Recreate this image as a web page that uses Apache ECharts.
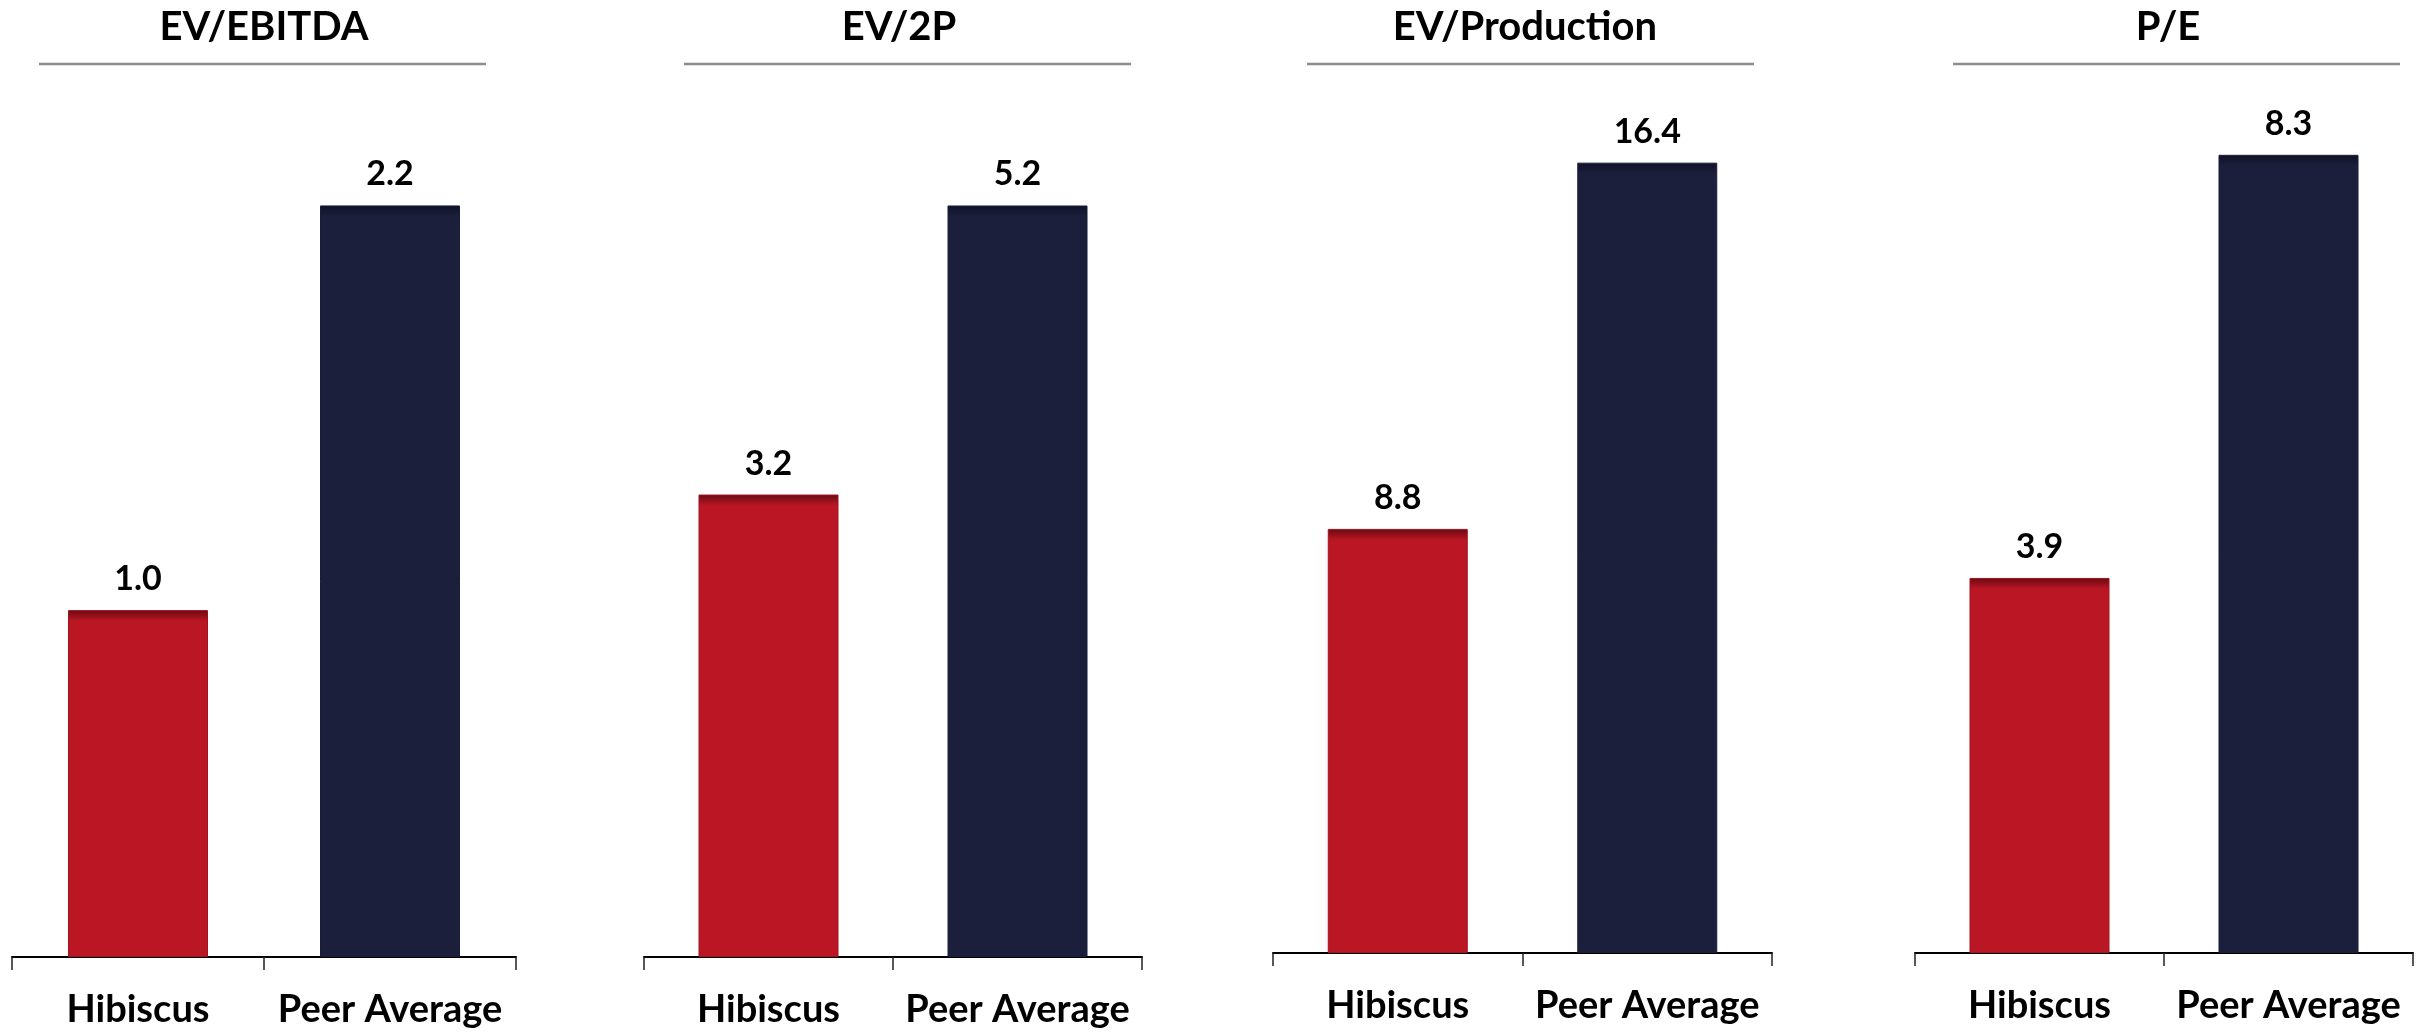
<!DOCTYPE html>
<html>
<head>
<meta charset="utf-8">
<script src="https://cdn.jsdelivr.net/npm/echarts@6/dist/echarts.min.js"></script>
<style>
html,body{margin:0;padding:0;background:#fff;}
#chart{width:2430px;height:1034px;}
</style>
</head>
<body>
<div id="chart"></div>
<script>
// ---- data ----
const metrics = ['EV/EBITDA', 'EV/2P', 'EV/Production', 'P/E'];
const categories = ['Hibiscus', 'Peer Average'];
const hibiscus = [1.02, 3.2, 8.8, 3.9];
const peerAverage = [2.21, 5.2, 16.4, 8.3];

// ---- layout (per panel) ----
const gridLeft = [12, 644, 1273, 1915];
const gridWidth = [504, 498, 499, 498];
const gridTop = 100;
const gridBottom = [77, 77, 81, 81];
const yMax = [2.52, 5.93, 17.7, 8.87];
const sepLeft = [39, 684, 1307, 1953];
const sepWidth = 447;
const titleCenter = [264, 899, 1525, 2168];

const FONT = 'Lato, "Open Sans", "Noto Sans", sans-serif';
const colors = {
  red: '#BB1624', redDark: '#680A12',
  navy: '#1C1F3C', navyDark: '#0F1125'
};

const chart = echarts.init(document.getElementById('chart'), null, {renderer: 'canvas'});

const grids = [], xAxes = [], yAxes = [], series = [], graphics = [];
metrics.forEach((m, i) => {
  const W = 2430;
  grids.push({left: gridLeft[i], right: W - gridLeft[i] - gridWidth[i], top: gridTop, bottom: gridBottom[i], containLabel: false});
  xAxes.push({
    type: 'category', gridIndex: i, data: categories,
    axisLine: {show: true, lineStyle: {color: '#000', width: 2}},
    axisTick: {show: true, length: 13, lineStyle: {color: '#222', width: 1.5}},
    axisLabel: {interval: 0, color: '#000', fontFamily: FONT, fontWeight: 'bold', fontSize: 38, margin: 34},
    splitLine: {show: false}
  });
  yAxes.push({type: 'value', gridIndex: i, min: 0, max: yMax[i], show: false, splitLine: {show: false}});
  const plotH = 1034 - gridTop - gridBottom[i];
  const vals = [hibiscus[i], peerAverage[i]];
  series.push({
    type: 'bar', xAxisIndex: i, yAxisIndex: i,
    barWidth: 140,
    data: vals.map((v, k) => {
      const hPx = v / yMax[i] * plotH;
      const s = Math.min(0.2, 11 / hPx);
      const base = k === 0 ? colors.red : colors.navy;
      const dark = k === 0 ? colors.redDark : colors.navyDark;
      return {
        value: v,
        itemStyle: {
          color: new echarts.graphic.LinearGradient(0, 0, 0, 1, [
            {offset: 0, color: dark},
            {offset: s, color: base},
            {offset: 1, color: base}
          ]),
          borderColor: k === 0 ? '#A3121E' : '#1A1D38',
          borderWidth: 1
        }
      };
    }),
    label: {
      show: true, position: 'top', distance: 14,
      color: '#000', fontFamily: FONT, fontWeight: 'bold', fontSize: 34,
      formatter: p => p.value.toFixed(1)
    }
  });
  graphics.push({
    type: 'text',
    style: {
      text: m, x: titleCenter[i], y: 27,
      textAlign: 'center', textVerticalAlign: 'middle',
      align: 'center', verticalAlign: 'middle',
      font: 'bold 40px ' + FONT, fill: '#000'
    }
  });
  graphics.push({
    type: 'line',
    shape: {x1: sepLeft[i], y1: 64, x2: sepLeft[i] + sepWidth, y2: 64},
    style: {stroke: '#8C8C8C', lineWidth: 2.5}
  });
});

chart.setOption({
  backgroundColor: '#fff',
  animation: false,
  grid: grids,
  xAxis: xAxes,
  yAxis: yAxes,
  series: series,
  graphic: graphics
});
</script>
</body>
</html>
